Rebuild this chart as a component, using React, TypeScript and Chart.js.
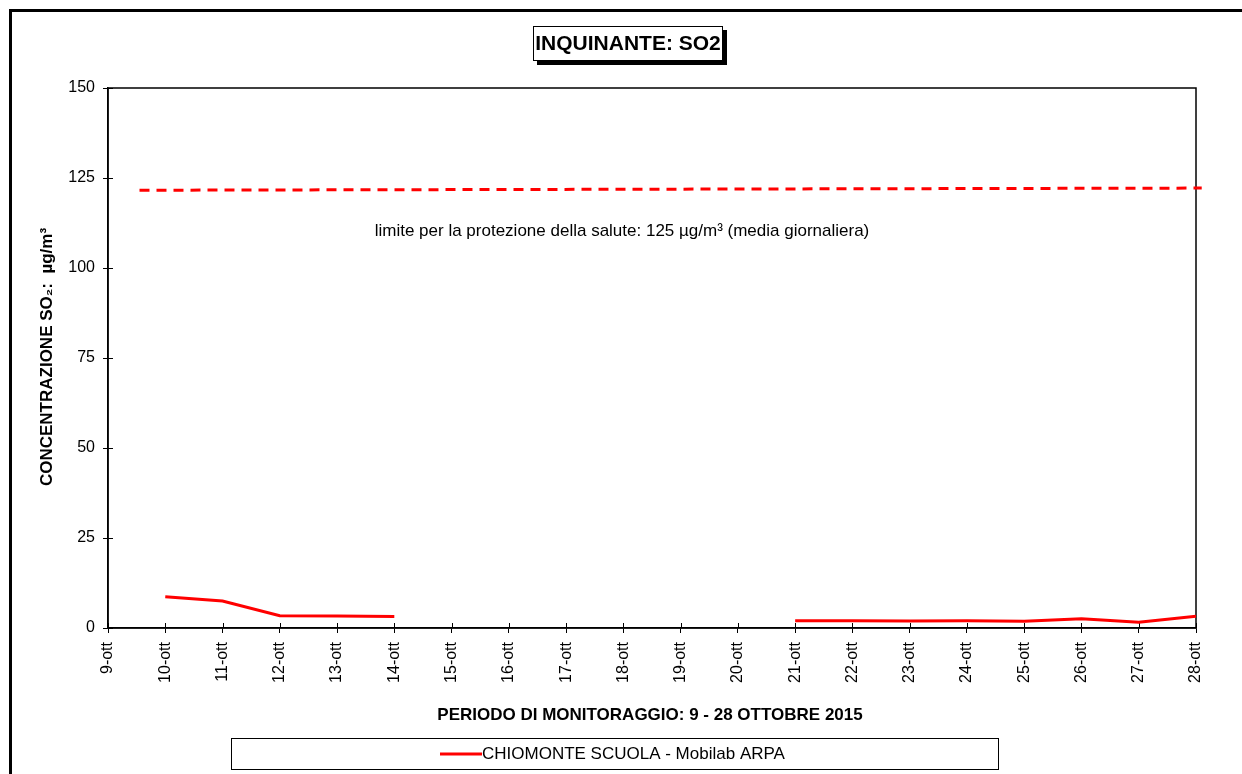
import React, { useEffect, useRef } from "react";
import { Chart, registerables } from "chart.js";

Chart.register(...registerables);

const DAY_NUMBERS = [9, 10, 11, 12, 13, 14, 15, 16, 17, 18, 19, 20, 21, 22, 23, 24, 25, 26, 27, 28];
const TICK_SUFFIX = "-ott";
const SO2_VALUES: (number | null)[] = [
  null, 8.7, 7.5, 3.4, 3.35, 3.2, null, null, null, null, null, null,
  2.0, 2.0, 1.95, 2.0, 1.9, 2.6, 1.6, 3.25,
];
const LIMIT_X = [9.55, 28.1];
const LIMIT_Y = [121.6, 122.2];
const Y_TICKS = [0, 25, 50, 75, 100, 125, 150];

const CHART_TITLE = "INQUINANTE: SO2";
const Y_TITLE = "CONCENTRAZIONE SO\u2082:  \u00b5g/m\u00b3";
const X_TITLE = "PERIODO DI MONITORAGGIO: 9 - 28 OTTOBRE 2015";
const LIMIT_NOTE = "limite per la protezione della salute: 125 \u00b5g/m\u00b3 (media giornaliera)";
const SERIES_NAME = "CHIOMONTE SCUOLA - Mobilab ARPA";

const FONT = "'Liberation Sans', Arial, sans-serif";
const W = 1242;
const H = 774;

const decorPlugin = {
  id: "decor",
  beforeDraw(chart: any) {
    const ctx = chart.ctx as CanvasRenderingContext2D;
    ctx.save();
    ctx.fillStyle = "#fff";
    ctx.fillRect(0, 0, W, H);
    // outer frame
    ctx.strokeStyle = "#000";
    ctx.lineWidth = 3;
    ctx.strokeRect(10.5, 10.5, W + 20, H + 20);
    // title box with shadow
    ctx.fillStyle = "#000";
    ctx.fillRect(537, 30, 190, 35);
    ctx.fillStyle = "#fff";
    ctx.fillRect(533, 26, 190, 35);
    ctx.lineWidth = 1;
    ctx.strokeStyle = "#000";
    ctx.strokeRect(533.5, 26.5, 189, 34);
    ctx.fillStyle = "#000";
    ctx.font = `bold 21px ${FONT}`;
    ctx.textAlign = "center";
    ctx.textBaseline = "middle";
    ctx.fillText(CHART_TITLE, 628, 44);
    // y axis title
    ctx.save();
    ctx.translate(47, 357);
    ctx.rotate(-Math.PI / 2);
    ctx.font = `bold 17px ${FONT}`;
    ctx.fillText(Y_TITLE, 0, 0);
    ctx.restore();
    // x axis title
    ctx.font = `bold 17px ${FONT}`;
    ctx.fillText(X_TITLE, 650, 715);
    // legend box
    ctx.lineWidth = 1;
    ctx.strokeRect(231.5, 738.5, 767, 31);
    ctx.strokeStyle = "#ff0000";
    ctx.lineWidth = 3;
    ctx.beginPath();
    ctx.moveTo(440, 754);
    ctx.lineTo(482, 754);
    ctx.stroke();
    ctx.fillStyle = "#000";
    ctx.font = `17px ${FONT}`;
    ctx.textAlign = "left";
    ctx.fillText(SERIES_NAME, 482, 754);
    ctx.restore();
  },
  beforeDatasetsDraw(chart: any) {
    const ctx = chart.ctx as CanvasRenderingContext2D;
    const a = chart.chartArea;
    ctx.save();
    ctx.strokeStyle = "#000";
    ctx.lineWidth = 1.5;
    ctx.strokeRect(a.left, a.top, a.right - a.left, a.bottom - a.top);
    ctx.lineWidth = 1;
    const ys = chart.scales.y;
    ys.ticks.forEach((t: any) => {
      const py = Math.round(ys.getPixelForValue(t.value)) + 0.5;
      ctx.beginPath();
      ctx.moveTo(a.left, py);
      ctx.lineTo(a.left + 5, py);
      ctx.stroke();
    });
    const xs = chart.scales.x;
    xs.ticks.forEach((t: any) => {
      const px = Math.round(xs.getPixelForValue(t.value)) + 0.5;
      ctx.beginPath();
      ctx.moveTo(px, a.bottom);
      ctx.lineTo(px, a.bottom - 5);
      ctx.stroke();
    });
    // limit note
    ctx.fillStyle = "#000";
    ctx.font = `17px ${FONT}`;
    ctx.textAlign = "center";
    ctx.textBaseline = "middle";
    ctx.fillText(LIMIT_NOTE, 622, 231);
    ctx.restore();
  },
};

export default function App() {
  const ref = useRef<HTMLCanvasElement | null>(null);
  useEffect(() => {
    if (!ref.current) return;
    const seriesData = DAY_NUMBERS.map((d, i) => ({ x: d, y: SO2_VALUES[i] }));
    const limitData = LIMIT_X.map((x, i) => ({ x, y: LIMIT_Y[i] }));
    const chart = new Chart(ref.current, {
      type: "line",
      data: {
        datasets: [
          {
            label: SERIES_NAME,
            data: seriesData as any,
            borderColor: "#ff0000",
            backgroundColor: "#ff0000",
            borderWidth: 3,
            pointRadius: 0,
            spanGaps: false,
            tension: 0,
          },
          {
            label: "limite",
            data: limitData as any,
            borderColor: "#ff0000",
            borderWidth: 3,
            borderDash: [10, 7],
            pointRadius: 0,
            clip: false as any,
          },
        ],
      },
      plugins: [decorPlugin],
      options: {
        animation: false,
        responsive: false,
        devicePixelRatio: 1,
        layout: { padding: { left: 0, top: 88, right: 46, bottom: 0 } },
        plugins: {
          legend: { display: false },
          title: { display: false },
          tooltip: { enabled: false },
        },
        scales: {
          x: {
            type: "linear",
            min: 9,
            max: 28,
            afterFit: (s: any) => {
              s.height = H - 628;
            },
            afterBuildTicks: (s: any) => {
              s.ticks = DAY_NUMBERS.map((v) => ({ value: v }));
            },
            ticks: {
              autoSkip: false,
              minRotation: 90,
              maxRotation: 90,
              padding: 9,
              color: "#000",
              font: { family: FONT, size: 16 },
              callback: (v: any) => `${v}${TICK_SUFFIX}`,
            },
            grid: {
              display: true,
              drawOnChartArea: false,
              drawTicks: true,
              tickLength: 5,
              color: "#000",
            },
            border: { display: true, color: "#000", width: 1.5 },
          },
          y: {
            type: "linear",
            min: 0,
            max: 150,
            afterFit: (s: any) => {
              s.width = 108;
            },
            afterBuildTicks: (s: any) => {
              s.ticks = Y_TICKS.map((v) => ({ value: v }));
            },
            ticks: {
              padding: 8,
              color: "#000",
              font: { family: FONT, size: 16 },
            },
            grid: {
              display: true,
              drawOnChartArea: false,
              drawTicks: true,
              tickLength: 5,
              color: "#000",
            },
            border: { display: true, color: "#000", width: 1.5 },
          },
        },
      },
    });
    return () => chart.destroy();
  }, []);
  return (
    <div style={{ position: "fixed", left: 0, top: 0, width: W, height: H, background: "#fff" }}>
      <canvas ref={ref} width={W} height={H} style={{ display: "block" }} />
    </div>
  );
}
